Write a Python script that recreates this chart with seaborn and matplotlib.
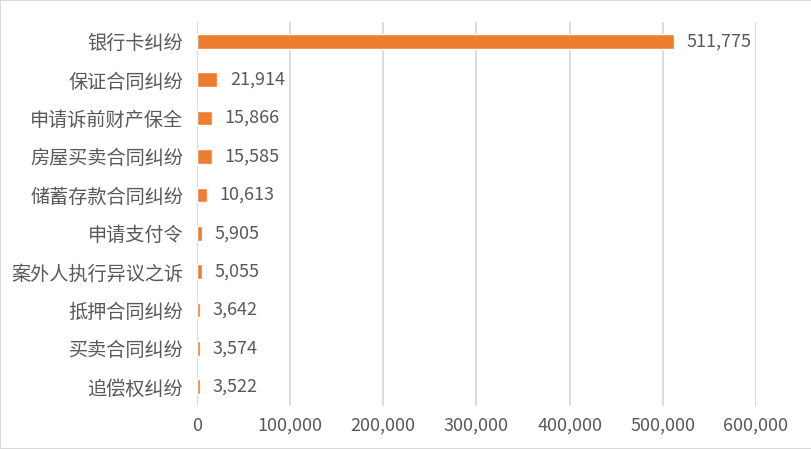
import matplotlib
matplotlib.use("Agg")
import matplotlib.pyplot as plt
import matplotlib.ticker as ticker
import pandas as pd
import seaborn as sns

categories = ["银行卡纠纷", "保证合同纠纷", "申请诉前财产保全", "房屋买卖合同纠纷", "储蓄存款合同纠纷",
              "申请支付令", "案外人执行异议之诉", "抵押合同纠纷", "买卖合同纠纷", "追偿权纠纷"]
counts = [511775, 21914, 15866, 15585, 10613, 5905, 5055, 3642, 3574, 3522]
x_ticks = [0, 100000, 200000, 300000, 400000, 500000, 600000]

sns.set_style("white")
plt.rcParams["font.family"] = ["Noto Sans CJK SC", "DejaVu Sans"]

text_color = "#595959"
grid_color = "#D9D9D9"
bar_color = "#ED7D31"

df = pd.DataFrame({"case": categories, "count": counts})

fig = plt.figure(figsize=(8.12, 4.49), dpi=100)
fig.patch.set_edgecolor("#D9D9D9")
fig.patch.set_linewidth(1.2)
ax = fig.add_axes([0.2426, 0.0958, 0.6884, 0.855])

sns.barplot(data=df, x="count", y="case", color=bar_color, saturation=1,
            width=0.38, ax=ax, zorder=3)

ax.set_xlim(0, 600000)
ax.set_xticks(x_ticks)
ax.xaxis.set_major_formatter(ticker.FuncFormatter(lambda v, p: f"{int(v):,}"))
ax.grid(axis="x", color=grid_color, linewidth=1.3, zorder=0)
ax.grid(axis="y", visible=False)
ax.set_xlabel("")
ax.set_ylabel("")
for s in ax.spines.values():
    s.set_visible(False)
ax.tick_params(axis="both", length=0, labelcolor=text_color)
ax.tick_params(axis="y", pad=10, labelsize=13.8)
ax.tick_params(axis="x", pad=8, labelsize=13)

for i, v in enumerate(counts):
    ax.annotate(f"{v:,}", xy=(v, i), xytext=(9, 0), textcoords="offset points",
                va="center", ha="left", fontsize=13, color=text_color)

fig.savefig("out.png", dpi=100, edgecolor=fig.get_edgecolor())
